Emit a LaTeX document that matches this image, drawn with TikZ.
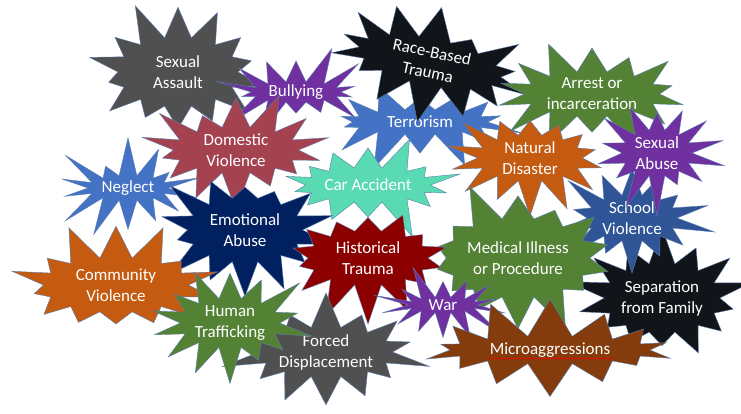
\documentclass[tikz,border=0pt]{standalone}
\usepackage{fontspec}
\setmainfont{Carlito}
\usetikzlibrary{shapes.symbols,decorations.pathmorphing,calc}
\definecolor{bgray}{RGB}{80,80,80}
\definecolor{bpurple}{RGB}{112,48,160}
\definecolor{bblack}{RGB}{17,20,24}
\definecolor{bblue}{RGB}{68,114,196}
\definecolor{bdblue}{RGB}{47,85,151}
\definecolor{bgreen}{RGB}{84,130,53}
\definecolor{borange}{RGB}{197,90,17}
\definecolor{brose}{RGB}{165,66,80}
\definecolor{bteal}{RGB}{90,218,178}
\definecolor{bnavy}{RGB}{0,32,96}
\definecolor{bdred}{RGB}{140,0,0}
\definecolor{bbrown}{RGB}{132,60,12}
\definecolor{bline}{RGB}{90,125,175}
\tikzset{
  burst/.style={starburst, draw=bline, line width=0.4pt, text=white, align=center,
    font=\fontsize{17}{21}\selectfont, inner sep=0pt, starburst points=14,
    starburst point height=40pt},
}
\begin{document}
\begin{tikzpicture}[x=1pt,y=-1pt]
\useasboundingbox (0,0) rectangle (741,413);

\node[burst, fill=bgray, minimum width=200pt, minimum height=150pt, random starburst=11] (sexassault) at (178,72) {Sexual\\Assault};
\node[burst, fill=bpurple, minimum width=170pt, minimum height=100pt, random starburst=12] (bullying) at (296,92) {Bullying};
\node[burst, fill=bblue, minimum width=215pt, minimum height=105pt, random starburst=13] (terror) at (420,122) {Terrorism};
\node[burst, fill=bblack, minimum width=225pt, minimum height=120pt, random starburst=14, rotate=-12] (racebased) at (430,62) {Race-Based\\Trauma};
\node[burst, fill=bgreen, minimum width=215pt, minimum height=125pt, random starburst=15] (arrest) at (592,94) {Arrest or\\incarceration};
\node[burst, fill=borange, minimum width=185pt, minimum height=120pt, random starburst=16] (natural) at (530,158) {Natural\\Disaster};
\node[burst, fill=bblack, minimum width=180pt, minimum height=150pt, random starburst=17] (separation) at (662,298) {Separation\\from Family};
\node[burst, fill=bdblue, minimum width=170pt, minimum height=100pt, random starburst=18] (school) at (632,218) {School\\Violence};
\node[burst, fill=bpurple, minimum width=150pt, minimum height=105pt, random starburst=19] (sexabuse) at (657,153) {Sexual\\Abuse};
\node[burst, fill=bblue, minimum width=160pt, minimum height=105pt, random starburst=20] (neglect) at (128,188) {Neglect};
\node[burst, fill=brose, minimum width=205pt, minimum height=115pt, random starburst=21] (domestic) at (236,150) {Domestic\\Violence};
\node[burst, fill=bteal, minimum width=205pt, minimum height=115pt, random starburst=22] (car) at (368,185) {Car Accident};
\node[burst, fill=bnavy, minimum width=195pt, minimum height=145pt, random starburst=23] (emotional) at (245,230) {Emotional\\Abuse};
\node[burst, fill=borange, minimum width=225pt, minimum height=135pt, random starburst=24] (community) at (116,285) {Community\\Violence};
\node[burst, fill=bgreen, minimum width=215pt, minimum height=160pt, random starburst=25] (medical) at (518,258) {Medical Illness\\or Procedure};
\node[burst, fill=bdred, minimum width=200pt, minimum height=135pt, random starburst=26] (historical) at (368,258) {Historical\\Trauma};
\node[burst, fill=bgray, minimum width=205pt, minimum height=115pt, random starburst=27] (forced) at (326,352) {Forced\\Displacement};
\node[burst, fill=bgreen, minimum width=175pt, minimum height=130pt, random starburst=28] (human) at (230,323) {Human\\Trafficking};
\node[burst, fill=bpurple, minimum width=150pt, minimum height=90pt, random starburst=29] (war) at (443,305) {War};
\node[burst, fill=bbrown, minimum width=280pt, minimum height=108pt, random starburst=30] (micro) at (550,350) {Microaggressions};
\draw[red, line width=0.5pt, decorate, decoration={snake, amplitude=0.7pt, segment length=3pt}]
  ($(micro.base)+(-62,4)$) -- ($(micro.base)+(62,4)$);
\end{tikzpicture}
\end{document}
